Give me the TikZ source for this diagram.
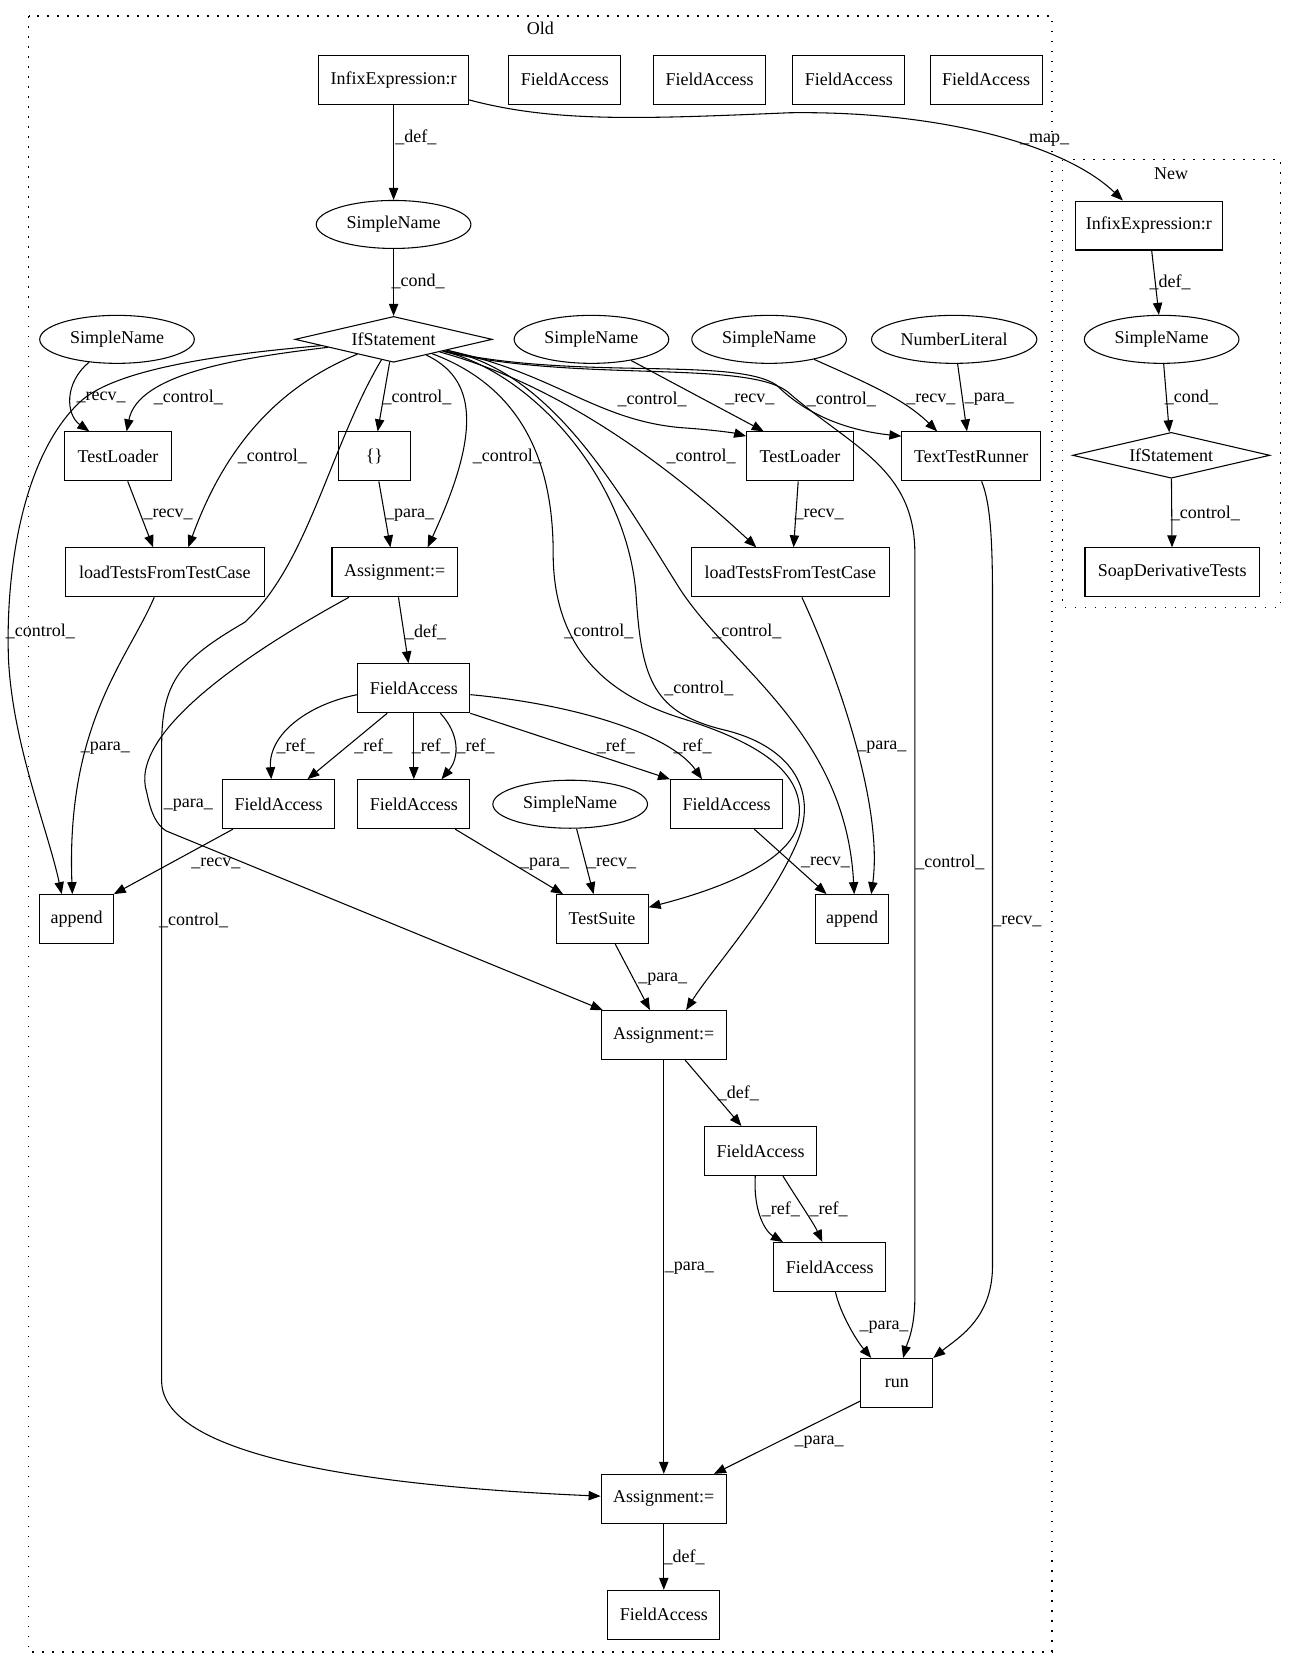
\documentclass[tikz,border=0pt]{standalone}
\usepackage{fontspec}
\setmainfont{Liberation Serif}
\usetikzlibrary{shapes.geometric,positioning,calc,arrows.meta}
\tikzset{BOX/.style={rectangle, draw, line width=0.8pt, minimum height=36.7pt, minimum width=#1, inner sep=0pt}, BOX/.default=84pt}
\tikzset{OVAL/.style={ellipse, draw, line width=0.8pt, minimum height=36pt, minimum width=#1, inner sep=0pt}, OVAL/.default=116pt}
\tikzset{COND/.style={diamond, draw, line width=0.8pt, aspect=4.4, minimum width=148pt, minimum height=34.4pt, inner sep=0pt}}
\tikzset{ARROW/.style={line width=0.8pt, -{Triangle[length=9pt, width=7pt]}}}
\tikzset{LBL/.style={inner sep=0pt}}
\tikzset{CLUSTER/.style={line width=0.9pt, dash pattern=on 1.2pt off 6.3pt}}

\begin{document}
\begin{tikzpicture}[x=0.798pt, y=-0.798pt, font=\fontsize{13.5}{16}\selectfont]
    \useasboundingbox (0,0) rectangle (1220,1568);

    % clusters
    \draw[CLUSTER] (27,15) rectangle (989,1553);
    \node[LBL] (oldtitle) at (508,27) {Old};
    \draw[CLUSTER] (999,150) rectangle (1204,571);
    \node[LBL] (newtitle) at (1101,163) {New};

    % old graph
    \node[BOX=112pt] (infold) at (370,75) {InfixExpression:r};
    \node[BOX] (fa1) at (531,75) {FieldAccess};
    \node[BOX] (fa2) at (667,75) {FieldAccess};
    \node[BOX] (fa3) at (798,75) {FieldAccess};
    \node[BOX] (fa4) at (927,75) {FieldAccess};
    \node[OVAL] (sn1) at (370,211) {SimpleName};
    \node[COND] (ifold) at (370,319) {IfStatement};
    \node[OVAL] (sn2) at (110,319) {SimpleName};
    \node[OVAL] (sn3) at (556,319) {SimpleName};
    \node[OVAL] (sn4) at (723,319) {SimpleName};
    \node[OVAL=124pt] (numlit) at (897,319) {NumberLiteral};
    \node[BOX=80pt] (tl1) at (111,429) {TestLoader};
    \node[BOX=54pt] (braces) at (352,429) {\{\}};
    \node[BOX=80pt] (tl2) at (752,429) {TestLoader};
    \node[BOX=104pt] (ttr) at (913,429) {TextTestRunner};
    \node[BOX=149pt] (lt1) at (155,538) {loadTestsFromTestCase};
    \node[BOX=94pt] (asg1) at (371,538) {Assignment:=};
    \node[BOX=149pt] (lt2) at (743,538) {loadTestsFromTestCase};
    \node[BOX] (fa5) at (389,647) {FieldAccess};
    \node[BOX] (fa6) at (262,756) {FieldAccess};
    \node[BOX] (fa7) at (389,756) {FieldAccess};
    \node[OVAL] (sn5) at (536,756) {SimpleName};
    \node[BOX] (fa8) at (683,756) {FieldAccess};
    \node[BOX=55pt] (app1) at (72,864) {append};
    \node[BOX=69pt] (suite) at (566,864) {TestSuite};
    \node[BOX=55pt] (app2) at (801,864) {append};
    \node[BOX=94pt] (asg2) at (624,973) {Assignment:=};
    \node[BOX] (fa9) at (715,1082) {FieldAccess};
    \node[BOX] (fa10) at (780,1191) {FieldAccess};
    \node[BOX=54pt] (run) at (843,1300) {run};
    \node[BOX=94pt] (asg3) at (624,1409) {Assignment:=};
    \node[BOX] (fa11) at (624,1518) {FieldAccess};

    % new graph
    \node[BOX=110pt] (infnew) at (1080,212) {InfixExpression:r};
    \node[OVAL] (snnew) at (1092,319) {SimpleName};
    \node[COND] (ifnew) at (1101,428) {IfStatement};
    \node[BOX=131pt] (soap) at (1102,538) {SoapDerivativeTests};

    \draw[ARROW] (infold) -- (sn1) node[LBL] at (391,129) {\_def\_};
    \draw[ARROW] (infold) .. controls (520,115) and (600,112) .. (742,106) .. controls (880,104) and (1000,135) .. (infnew) node[LBL] at (982,132) {\_map\_};
    \draw[ARROW] (sn1) -- (ifold) node[LBL] at (393,265) {\_cond\_};

    \draw[ARROW] (sn2) .. controls (60,360) and (62,390) .. ($(tl1.north)+(-27,0)$) node[LBL] at (95,374) {\_recv\_};
    \draw[ARROW] (ifold) .. controls (230,336) and (130,350) .. ($(tl1.north)+(8,0)$) node[LBL] at (177,374) {\_control\_};
    \draw[ARROW] (ifold) .. controls (220,332) and (110,345) .. (75,378) .. controls (20,430) and (5,540) .. (8,620) .. controls (12,700) and (45,780) .. ($(app1.north)+(-14,0)$) node[LBL] at (38,594) {\_control\_};
    \draw[ARROW] (ifold) .. controls (270,360) and (215,410) .. ($(lt1.north)+(22,0)$) node[LBL] at (256,429) {\_control\_};
    \draw[ARROW] (tl1) -- ($(lt1.north)+(-11,0)$) node[LBL] at (158,484) {\_recv\_};
    \draw[ARROW] (ifold) .. controls (310,420) and (290,530) .. (230,585) .. controls (170,620) and (152,640) .. (152,700) -- (152,1300) .. controls (155,1360) and (300,1395) .. (asg3) node[LBL] at (182,865) {\_control\_};
    \draw[ARROW] (ifold) -- ($(braces.north)+(3,0)$) node[LBL] at (392,374) {\_control\_};
    \draw[ARROW] (braces) -- ($(asg1.north)+(-4,0)$) node[LBL] at (385,484) {\_para\_};
    \draw[ARROW] (ifold) .. controls (445,355) and (455,400) .. ($(asg1.north)+(31,0)$) node[LBL] at (477,429) {\_control\_};
    \draw[ARROW] (asg1) -- ($(fa5.north)+(-5,0)$) node[LBL] at (400,594) {\_def\_};
    \draw[ARROW] (asg1) .. controls (230,615) and (120,690) .. (138,745) .. controls (142,765) and (147,775) .. (156,781) -- ($(asg2.north west)+(2,0)$) node[LBL] at (177,757) {\_para\_};

    \draw[ARROW] (ifold) .. controls (520,350) and (560,395) .. (640,402) .. controls (670,404) and (690,407) .. ($(tl2.west)+(0,-19)$) node[LBL] at (613,375) {\_control\_};
    \draw[ARROW] (sn3) -- ($(tl2.north)+(-34,0)$) node[LBL] at (705,375) {\_recv\_};
    \draw[ARROW] (ifold) .. controls (540,358) and (690,335) .. (730,362) .. controls (760,392) and (800,405) .. ($(ttr.west)+(0,-19)$) node[LBL] at (791,375) {\_control\_};
    \draw[ARROW] (sn4) .. controls (815,360) and (850,375) .. ($(ttr.north)+(-32,0)$) node[LBL] at (875,375) {\_recv\_};
    \draw[ARROW] (numlit) -- ($(ttr.north)+(-4,0)$) node[LBL] at (930,375) {\_para\_};
    \draw[ARROW] (ifold) .. controls (520,360) and (620,430) .. ($(lt2.north)+(-32,0)$) node[LBL] at (659,429) {\_control\_};
    \draw[ARROW] (tl2) -- ($(lt2.north)+(3,0)$) node[LBL] at (770,484) {\_recv\_};
    \draw[ARROW] (ifold) .. controls (540,360) and (700,338) .. (740,368) .. controls (800,420) and (860,440) .. (860,520) -- (860,1220) .. controls (860,1250) and (852,1265) .. ($(run.north)+(6,0)$) node[LBL] at (893,811) {\_control\_};
    \draw[ARROW] (ttr) .. controls (930,470) and (933,500) .. (933,560) -- (933,1190) .. controls (933,1240) and (900,1258) .. (run.north east) node[LBL] at (956,866) {\_recv\_};

    \draw[ARROW] (ifold) .. controls (480,360) and (520,420) .. (520,520) .. controls (520,600) and (560,650) .. (640,675) .. controls (720,700) and (760,730) .. (750,775) .. controls (740,815) and (660,840) .. (suite) node[LBL] at (563,594) {\_control\_};
    \draw[ARROW] (ifold) .. controls (500,350) and (590,450) .. (598,560) .. controls (603,640) and (615,670) .. (680,686) .. controls (740,700) and (770,740) .. (750,790) .. controls (725,850) and (670,910) .. ($(asg2.north)+(21,0)$) node[LBL] at (657,647) {\_control\_};
    \draw[ARROW] (ifold) .. controls (520,350) and (580,460) .. (640,555) .. controls (690,630) and (795,690) .. ($(app2.north)+(2,0)$) node[LBL] at (702,594) {\_control\_};
    \draw[ARROW] (lt2) .. controls (790,640) and (830,760) .. ($(app2.north)+(18,0)$) node[LBL] at (829,702) {\_para\_};
    \draw[ARROW] (lt1) .. controls (120,620) and (62,680) .. ($(app1.north)+(-4,0)$) node[LBL] at (99,703) {\_para\_};

    % refs of the assigned field
    \draw[ARROW] ($(fa5.west)+(0,6)$) .. controls (290,662) and (252,690) .. ($(fa6.north)+(-7,0)$) node[LBL] at (278,702) {\_ref\_};
    \draw[ARROW] ($(fa5.south)+(-25,0)$) -- ($(fa6.north)+(27,0)$) node[LBL] at (351,702) {\_ref\_};
    \draw[ARROW] (fa5) -- (fa7) node[LBL] at (405,702) {\_ref\_};
    \draw[ARROW] ($(fa5.south)+(25,0)$) .. controls (432,690) and (432,712) .. ($(fa7.north)+(26,0)$) node[LBL] at (447,702) {\_ref\_};
    \draw[ARROW] (fa5.south east) -- (fa8.north west) node[LBL] at (579,702) {\_ref\_};
    \draw[ARROW] ($(fa5.east)+(0,6)$) .. controls (540,662) and (630,690) .. ($(fa8.north)+(-23,0)$) node[LBL] at (651,702) {\_ref\_};

    \draw[ARROW] (fa6) -- (app1.north east) node[LBL] at (203,812) {\_recv\_};
    \draw[ARROW] (fa7) -- ($(suite.north west)+(7,0)$) node[LBL] at (512,812) {\_para\_};
    \draw[ARROW] (sn5) -- ($(suite.north)+(-8,0)$) node[LBL] at (575,812) {\_recv\_};
    \draw[ARROW] (fa8) -- ($(app2.north)+(-24,0)$) node[LBL] at (776,811) {\_recv\_};
    \draw[ARROW] (suite) -- ($(asg2.north)+(-13,0)$) node[LBL] at (623,920) {\_para\_};
    \draw[ARROW] (asg2) -- ($(fa9.north)+(-18,0)$) node[LBL] at (694,1028) {\_def\_};
    \draw[ARROW] (asg2) -- (asg3) node[LBL] at (648,1192) {\_para\_};
    \draw[ARROW] ($(fa9.south)+(-5,0)$) .. controls (708,1140) and (720,1158) .. ($(fa10.north)+(-44,0)$) node[LBL] at (734,1137) {\_ref\_};
    \draw[ARROW] ($(fa9.south)+(21,0)$) .. controls (748,1125) and (765,1150) .. ($(fa10.north)+(-7,0)$) node[LBL] at (779,1137) {\_ref\_};
    \draw[ARROW] (fa10) .. controls (790,1235) and (805,1260) .. ($(run.north)+(-24,0)$) node[LBL] at (831,1248) {\_para\_};
    \draw[ARROW] (run) -- (asg3) node[LBL] at (770,1356) {\_para\_};
    \draw[ARROW] (asg3) -- (fa11) node[LBL] at (643,1464) {\_def\_};

    \draw[ARROW] (infnew) -- (snnew) node[LBL] at (1100,265) {\_def\_};
    \draw[ARROW] (snnew) -- (ifnew) node[LBL] at (1120,374) {\_cond\_};
    \draw[ARROW] (ifnew) -- (soap) node[LBL] at (1133,483) {\_control\_};
\end{tikzpicture}
\end{document}
